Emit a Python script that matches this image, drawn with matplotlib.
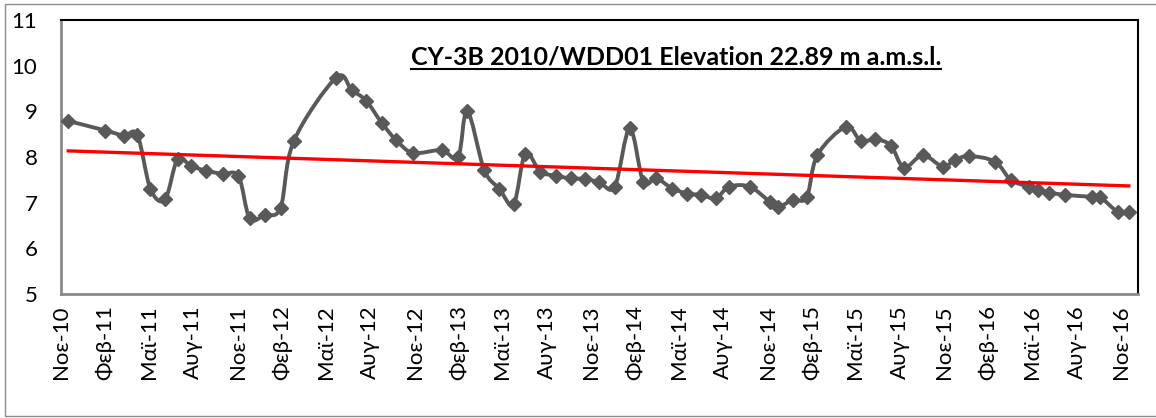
import matplotlib
matplotlib.use("Agg")
import matplotlib.pyplot as plt
import matplotlib.dates as mdates
from matplotlib.path import Path
from matplotlib.patches import PathPatch, Rectangle
from matplotlib.lines import Line2D
import numpy as np
import pandas as pd

plt.rcParams['font.family'] = ['Lato', 'DejaVu Sans']

# measured water level (m) at CY-3B 2010/WDD01
dates = [
    "2010-11-16", "2011-02-01", "2011-03-11", "2011-04-08", "2011-05-05",
    "2011-06-04", "2011-06-30", "2011-07-28", "2011-08-28", "2011-10-01",
    "2011-11-03", "2011-11-26", "2011-12-27", "2012-01-29", "2012-02-25",
    "2012-05-23", "2012-06-24", "2012-07-24", "2012-08-25", "2012-09-24",
    "2012-10-29", "2012-12-27", "2013-01-30", "2013-02-18", "2013-03-25",
    "2013-04-25", "2013-05-25", "2013-06-18", "2013-07-19", "2013-08-20",
    "2013-09-21", "2013-10-19", "2013-11-18", "2013-12-20", "2014-01-20",
    "2014-02-17", "2014-03-16", "2014-04-18", "2014-05-19", "2014-06-16",
    "2014-07-17", "2014-08-14", "2014-09-25", "2014-11-06", "2014-11-23",
    "2014-12-24", "2015-01-21", "2015-02-12", "2015-04-12", "2015-05-13",
    "2015-06-12", "2015-07-14", "2015-08-10", "2015-09-18", "2015-10-29",
    "2015-11-23", "2015-12-22", "2016-02-14", "2016-03-18", "2016-04-24",
    "2016-05-14", "2016-06-06", "2016-07-09", "2016-09-01", "2016-09-18",
    "2016-10-26", "2016-11-17",
]
levels = [
    8.79, 8.58, 8.47, 8.48, 7.30,
    7.07, 7.95, 7.80, 7.70, 7.63,
    7.58, 6.66, 6.73, 6.89, 8.34,
    9.74, 9.47, 9.23, 8.75, 8.37,
    8.09, 8.15, 7.99, 9.01, 7.72,
    7.31, 6.97, 8.07, 7.68, 7.59,
    7.53, 7.52, 7.45, 7.35, 8.63,
    7.46, 7.53, 7.31, 7.20, 7.17,
    7.10, 7.35, 7.35, 7.02, 6.91,
    7.06, 7.12, 8.04, 8.66, 8.35,
    8.39, 8.25, 7.77, 8.04, 7.79,
    7.93, 8.02, 7.90, 7.50, 7.35,
    7.28, 7.22, 7.17, 7.13, 7.13,
    6.79, 6.79,
]

tick_labels = [
    "Νοε-10", "Φεβ-11", "Μαϊ-11", "Αυγ-11", "Νοε-11", "Φεβ-12", "Μαϊ-12",
    "Αυγ-12", "Νοε-12", "Φεβ-13", "Μαϊ-13", "Αυγ-13", "Νοε-13", "Φεβ-14",
    "Μαϊ-14", "Αυγ-14", "Νοε-14", "Φεβ-15", "Μαϊ-15", "Αυγ-15", "Νοε-15",
    "Φεβ-16", "Μαϊ-16", "Αυγ-16", "Νοε-16",
]
title = "CY-3B 2010/WDD01 Elevation 22.89 m a.m.s.l."

GRAY = "#595959"


def smooth_path(x, y):
    # Excel style smoothed line: cubic bezier through every point
    pts = np.column_stack([x, y])
    n = len(pts)
    verts = [pts[0]]
    codes = [Path.MOVETO]
    for i in range(n - 1):
        p0 = pts[max(i - 1, 0)]
        p1 = pts[i]
        p2 = pts[i + 1]
        p3 = pts[min(i + 2, n - 1)]
        verts += [p1 + (p2 - p0) / 6, p2 - (p3 - p1) / 6, p2]
        codes += [Path.CURVE4] * 3
    return Path(verts, codes)


xn = mdates.date2num(pd.to_datetime(dates))
yv = np.array(levels)

fig = plt.figure(figsize=(11.56, 4.18), dpi=100)
ax = fig.add_axes([61 / 1156, 1 - 294 / 418, (1138 - 61) / 1156, (294 - 20) / 418])

ax.add_patch(PathPatch(smooth_path(xn, yv), facecolor="none",
                       edgecolor=GRAY, lw=2.8, zorder=2))
ax.plot(xn, yv, "D", color=GRAY, ms=6.8, zorder=3)

coef = np.polyfit(xn, yv, 1)
tx = np.array([xn[0], xn[-1]])
ax.plot(tx, np.polyval(coef, tx), color="red", lw=2.4, zorder=4)

ax.set_xlim(mdates.date2num(pd.Timestamp("2010-11-01")),
            mdates.date2num(pd.Timestamp("2016-12-06")))
ax.set_ylim(5, 11)
ax.set_yticks(range(5, 12))

tick_pos = mdates.date2num(pd.date_range("2010-11-01", periods=len(tick_labels), freq="3MS"))
ax.set_xticks(tick_pos)
ax.set_xticklabels(tick_labels, rotation=90, va="top", ha="center")

ax.tick_params(axis="y", length=0, pad=17, labelsize=16)
ax.tick_params(axis="x", length=0, pad=8, labelsize=16)

for side in ["left", "bottom"]:
    ax.spines[side].set_color("#8a8a8a")
    ax.spines[side].set_linewidth(2)
for side in ["top", "right"]:
    ax.spines[side].set_color("black")
    ax.spines[side].set_linewidth(1.5)

t = ax.text(0.571, 0.836, title, transform=ax.transAxes, ha="center",
            va="baseline", fontsize=18, fontweight="bold")

fig.add_artist(Rectangle((5 / 1156, 2 / 418), 1.1, 1 - 6 / 418,
                         transform=fig.transFigure, fill=False,
                         edgecolor="#8c8c8c", lw=1))

# underline the title
fig.canvas.draw()
bb = t.get_window_extent()
base_y = ax.transAxes.transform((0, 0.836))[1]
inv = fig.transFigure.inverted()
(x0, y0), (x1, _) = inv.transform([(bb.x0, base_y - 4), (bb.x1, base_y - 4)])
fig.add_artist(Line2D([x0, x1], [y0, y0], transform=fig.transFigure,
                      color="black", lw=1.5))

fig.savefig("out.png", dpi=100)
